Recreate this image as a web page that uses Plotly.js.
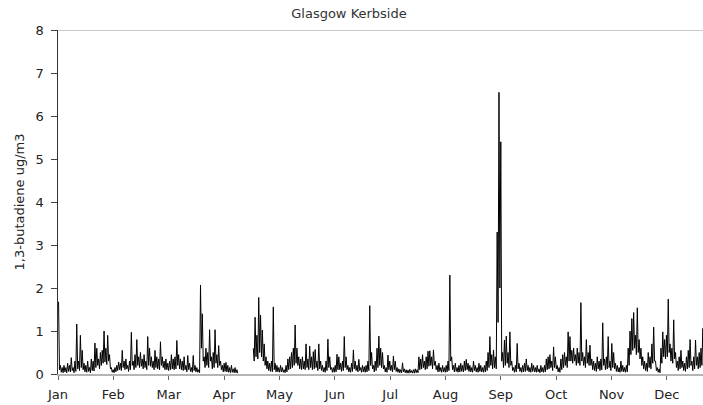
<!DOCTYPE html>
<html>
<head>
<meta charset="utf-8">
<script src="https://cdn.plot.ly/plotly-3.0.1.min.js"></script>
<style>html,body{margin:0;padding:0;background:#fff;}#chart{width:703px;height:405px;}</style>
</head>
<body>
<div id="chart"></div>
<script>
// Month labels for the axis
const monthLabels = ['Jan','Feb','Mar','Apr','May','Jun','Jul','Aug','Sep','Oct','Nov','Dec'];

// Daily high / low readings (1,3-butadiene ug/m3)
const janHi = [1.68,0.2,0.15,0.2,0.15,0.25,0.2,0.38,0.15,0.3,1.16,0.3,0.9,0.55,0.25,0.2,0.3,0.15,0.35,0.3,0.72,0.6,0.35,0.5,0.55,1.0,0.6,0.9,0.45,0.15,0.1];
const janLo = [0.1,0.04,0.03,0.05,0.03,0.06,0.05,0.08,0.03,0.06,0.12,0.08,0.15,0.1,0.05,0.04,0.06,0.03,0.08,0.07,0.15,0.2,0.12,0.2,0.25,0.28,0.22,0.3,0.12,0.04,0.03];

const febHi = [0.15,0.2,0.28,0.25,0.55,0.3,0.35,0.2,0.3,0.97,0.3,0.45,0.8,0.4,0.5,0.35,0.45,0.3,0.87,0.6,0.4,0.3,0.55,0.4,0.35,0.75,0.4,0.3];
const febLo = [0.05,0.08,0.1,0.08,0.15,0.1,0.12,0.06,0.1,0.2,0.1,0.15,0.2,0.15,0.18,0.12,0.15,0.1,0.2,0.18,0.15,0.1,0.15,0.12,0.1,0.2,0.15,0.1];

const marHi = [0.35,0.25,0.3,0.45,0.35,0.4,0.78,0.45,0.35,0.3,0.4,0.2,0.43,0.25,0.15,0.43,0.2,0.15,0.1,2.07,1.4,0.4,0.6,0.5,1.03,0.4,0.5,1.03,0.45,0.66,0.3];
const marLo = [0.1,0.08,0.1,0.12,0.1,0.12,0.2,0.12,0.1,0.08,0.1,0.05,0.1,0.06,0.04,0.08,0.05,0.04,0.03,0.6,0.3,0.15,0.2,0.15,0.3,0.12,0.15,0.25,0.15,0.2,0.1];

const aprHi = [0.2,0.25,0.27,0.2,0.15,0.2,0.12,0.15,0.1,null,null,null,null,null,null,null,null,0.6,1.32,0.9,1.78,1.37,1.02,0.7,0.4,0.3,0.25,0.3,1.56,0.25];
const aprLo = [0.05,0.06,0.05,0.04,0.03,0.04,0.03,0.03,0.02,null,null,null,null,null,null,null,null,0.3,0.4,0.35,0.5,0.4,0.3,0.2,0.12,0.08,0.06,0.05,0.1,0.05];

const mayHi = [0.2,0.15,0.2,0.15,0.1,0.2,0.35,0.4,0.5,0.6,1.14,0.6,0.4,0.35,0.4,0.3,0.7,0.35,0.65,0.4,0.52,0.57,0.3,0.7,0.3,0.2,0.15,0.3,0.81,0.4,0.15];
const mayLo = [0.05,0.04,0.05,0.04,0.03,0.05,0.1,0.12,0.15,0.2,0.25,0.2,0.12,0.1,0.12,0.1,0.15,0.1,0.15,0.1,0.12,0.15,0.08,0.12,0.08,0.05,0.04,0.08,0.15,0.1,0.04];

const junHi = [0.15,0.2,0.46,0.4,0.25,0.3,0.87,0.4,0.2,0.15,0.25,0.56,0.3,0.2,0.34,0.15,0.2,0.17,0.2,0.3,1.59,0.5,0.2,0.3,0.6,0.88,0.6,0.5,0.2,0.15];
const junLo = [0.04,0.05,0.1,0.1,0.06,0.08,0.15,0.1,0.05,0.04,0.06,0.12,0.08,0.05,0.08,0.04,0.05,0.04,0.05,0.08,0.2,0.12,0.05,0.08,0.15,0.2,0.15,0.12,0.05,0.04];

const julHi = [0.44,0.3,0.2,0.42,0.3,0.15,0.12,0.1,0.26,0.12,0.1,0.09,0.11,0.08,0.1,0.12,0.1,0.4,0.35,0.45,0.3,0.4,0.53,0.54,0.4,0.56,0.3,0.2,0.25,0.15,0.2];
const julLo = [0.1,0.08,0.05,0.1,0.06,0.04,0.03,0.03,0.05,0.03,0.02,0.02,0.03,0.02,0.02,0.03,0.03,0.1,0.12,0.15,0.1,0.12,0.18,0.2,0.12,0.2,0.1,0.05,0.06,0.04,0.05];

const augHi = [0.15,0.2,0.3,2.3,0.4,0.2,0.25,0.15,0.2,0.25,0.2,0.3,0.34,0.25,0.2,0.15,0.3,0.2,0.15,0.25,0.2,0.15,0.2,0.3,0.5,0.87,0.45,0.56,0.4,3.3,6.55];
const augLo = [0.04,0.05,0.08,0.3,0.1,0.05,0.06,0.04,0.05,0.06,0.05,0.08,0.1,0.06,0.05,0.04,0.08,0.05,0.04,0.06,0.05,0.04,0.05,0.08,0.15,0.2,0.12,0.15,0.12,1.2,2.0];

const sepHi = [5.4,0.5,0.79,0.88,0.5,0.98,0.3,0.15,0.2,0.71,0.25,0.15,0.2,0.25,0.35,0.2,0.15,0.25,0.2,0.15,0.2,0.12,0.2,0.15,0.2,0.35,0.4,0.45,0.3,0.63];
const sepLo = [0.3,0.15,0.2,0.25,0.15,0.2,0.08,0.04,0.05,0.12,0.06,0.04,0.05,0.06,0.08,0.05,0.04,0.06,0.05,0.04,0.05,0.03,0.05,0.04,0.05,0.1,0.12,0.15,0.08,0.15];

const octHi = [0.4,0.2,0.15,0.35,0.45,0.5,0.4,0.98,0.87,0.55,0.6,0.45,0.6,0.5,1.66,0.5,0.4,0.8,0.5,0.67,0.35,0.3,0.25,0.4,0.3,0.35,1.19,0.35,0.4,0.87,0.3];
const octLo = [0.12,0.05,0.04,0.1,0.15,0.2,0.15,0.3,0.3,0.25,0.3,0.2,0.25,0.2,0.3,0.2,0.15,0.25,0.2,0.2,0.1,0.08,0.06,0.12,0.08,0.1,0.2,0.1,0.12,0.15,0.08];

const novHi = [0.71,0.5,0.25,0.2,0.15,0.3,0.2,0.15,0.2,0.6,1.0,1.29,1.43,0.9,1.54,0.8,0.6,0.4,0.3,0.25,0.5,0.4,0.7,1.09,0.3,0.15,0.12,0.6,0.98,0.8];
const novLo = [0.15,0.12,0.06,0.05,0.04,0.06,0.05,0.04,0.05,0.2,0.45,0.55,0.6,0.45,0.5,0.35,0.2,0.12,0.08,0.06,0.15,0.12,0.25,0.3,0.08,0.04,0.03,0.25,0.4,0.35];

const decHi = [0.9,1.74,0.7,0.6,1.26,0.5,0.3,0.4,0.55,0.3,0.25,0.4,0.55,0.8,0.3,0.4,0.79,0.4,0.5,0.6,1.06,0.5,0.4];
const decLo = [0.4,0.5,0.3,0.25,0.35,0.15,0.08,0.12,0.15,0.08,0.06,0.12,0.15,0.2,0.08,0.12,0.2,0.12,0.15,0.2,0.3,0.15,0.12];

const monthStarts = [0,31,59,90,120,151,181,212,243,273,304,334];
const highs = [janHi,febHi,marHi,aprHi,mayHi,junHi,julHi,augHi,sepHi,octHi,novHi,decHi];
const lows  = [janLo,febLo,marLo,aprLo,mayLo,junLo,julLo,augLo,sepLo,octLo,novLo,decLo];

const xs = [], ys = [];
highs.forEach((hi, m) => {
  const lo = lows[m];
  hi.forEach((v, i) => {
    const d = monthStarts[m] + i;
    xs.push(d + 0.3); ys.push(v);
    xs.push(d + 0.8); ys.push(lo[i]);
  });
});

// Category-style month ticks, equally spaced across the year
const tickVals = monthLabels.map((_, k) => k * 365 / 12);

const trace = {
  x: xs, y: ys, type: 'scatter', mode: 'lines',
  line: {color: '#000', width: 1},
  connectgaps: false, hoverinfo: 'none'
};

const font = 'DejaVu Sans, Verdana, sans-serif';
const layout = {
  width: 703, height: 405,
  margin: {l: 58, r: 0, t: 30, b: 31, pad: 0},
  paper_bgcolor: '#fff', plot_bgcolor: '#fff',
  showlegend: false,
  font: {family: font, color: '#222', size: 13},
  title: {text: 'Glasgow Kerbside', x: 349/703, xref: 'container', xanchor: 'center',
          y: 1 - 13/405, yref: 'container', yanchor: 'middle',
          font: {family: font, size: 13, color: '#333'}},
  xaxis: {
    range: [0, 354.4], tickmode: 'array', tickvals: tickVals, ticktext: monthLabels,
    ticks: 'outside', ticklen: 4, tickcolor: '#666', tickwidth: 1, ticklabelstandoff: 3,
    showline: true, linecolor: '#b4b4b4', linewidth: 2,
    showgrid: false, zeroline: false,
    tickfont: {family: font, size: 13, color: '#222'}
  },
  yaxis: {
    range: [0, 8], dtick: 1, tick0: 0,
    ticks: 'outside', ticklen: 6, tickcolor: '#444', tickwidth: 1, ticklabelstandoff: 4,
    showline: true, linecolor: '#333', linewidth: 1.5,
    showgrid: false, zeroline: false,
    tickfont: {family: font, size: 13, color: '#222'},
    title: {text: '1,3-butadiene ug/m3', font: {family: font, size: 13, color: '#222'}, standoff: 8}
  },
  shapes: [{type: 'line', xref: 'paper', yref: 'y', x0: 0, x1: 1, y0: 8, y1: 8,
            line: {color: '#c8c8c8', width: 2}}]
};

Plotly.newPlot('chart', [trace], layout, {displayModeBar: false, staticPlot: true});
</script>
</body>
</html>
